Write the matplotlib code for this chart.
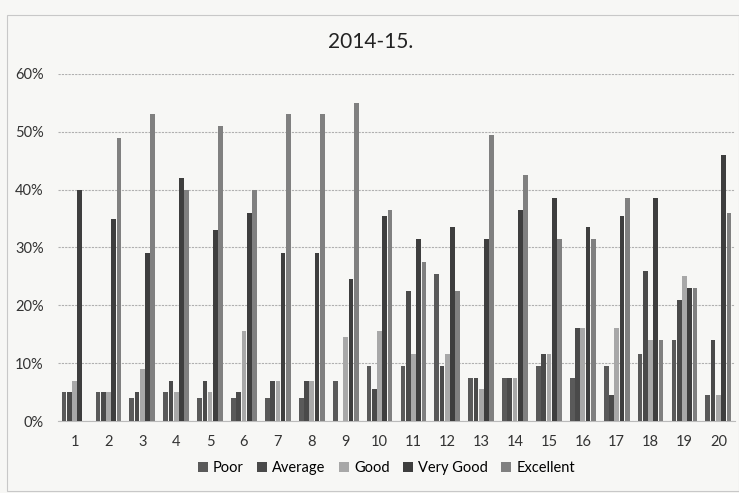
import numpy as np
import matplotlib
matplotlib.use("Agg")
import matplotlib.pyplot as plt
from matplotlib.ticker import PercentFormatter

plt.rcParams["font.family"] = ["Lato", "DejaVu Sans"]

# Werte (in Prozent)
categories = [str(i) for i in range(1, 21)]
series_names = ["Poor", "Average", "Good", "Very Good", "Excellent"]
poor = [5, 5, 4, 5, 4, 4, 4, 4, 7, 9.5, 9.5, 25.5, 7.5, 7.5, 9.5, 7.5, 9.5, 11.5, 14, 4.5]
average = [5, 5, 5, 7, 7, 5, 7, 7, 0, 5.5, 22.5, 9.5, 7.5, 7.5, 11.5, 16, 4.5, 26, 21, 14]
good = [7, 5, 9, 5, 5, 15.5, 7, 7, 14.5, 15.5, 11.5, 11.5, 5.5, 7.5, 11.5, 16, 16, 14, 25, 4.5]
very_good = [40, 35, 29, 42, 33, 36, 29, 29, 24.5, 35.5, 31.5, 33.5, 31.5, 36.5, 38.5, 33.5, 35.5, 38.5, 23, 46]
excellent = [0, 49, 53, 40, 51, 40, 53, 53, 55, 36.5, 27.5, 22.5, 49.5, 42.5, 31.5, 31.5, 38.5, 14, 23, 36]

series = [poor, average, good, very_good, excellent]
colors = ["#5a5a5a", "#4a4a4a", "#a8a8a8", "#3e3e3e", "#808080"]

fig = plt.figure(figsize=(7.39, 4.93), dpi=100)
fig.patch.set_facecolor("#f7f7f5")
ax = fig.add_axes([0.078, 0.146, 0.917, 0.704])
ax.set_facecolor("#f7f7f5")

# Rahmen um das ganze Diagramm
frame = plt.Rectangle((0.01, 0.005), 0.99, 0.965, transform=fig.transFigure,
                      fill=False, edgecolor="#c8c8c8", linewidth=0.8)
fig.patches.append(frame)

x = np.arange(len(categories))
width = 0.155
for i, (vals, name, col) in enumerate(zip(series, series_names, colors)):
    offs = (i - 2) * width
    ax.bar(x + offs, np.array(vals) / 100, width=width * 0.9, color=col,
           label=name, zorder=3)

ax.set_xlim(-0.5, len(categories) - 0.5)
ax.set_ylim(0, 0.6)
ax.set_yticks(np.arange(0, 0.61, 0.1))
ax.yaxis.set_major_formatter(PercentFormatter(1.0, decimals=0))
ax.set_xticks(x)
ax.set_xticklabels(categories)
ax.tick_params(axis="both", length=0, labelsize=10.5, colors="#333333", pad=10)
ax.grid(axis="y", color="#b0b0b0", linewidth=0.8, linestyle=(0, (2, 1)), zorder=0)
for s in ["top", "right", "left"]:
    ax.spines[s].set_visible(False)
ax.spines["bottom"].set_color("#bbbbbb")

fig.text(0.502, 0.915, "2014-15.", ha="center", va="center", fontsize=15, color="#222222")
fig.legend(loc="center", bbox_to_anchor=(0.523, 0.05), ncol=5, frameon=False,
           fontsize=10.5, handlelength=0.7, handleheight=0.7, handletextpad=0.35,
           columnspacing=0.9)

fig.savefig("out.png", dpi=100, facecolor=fig.get_facecolor())
